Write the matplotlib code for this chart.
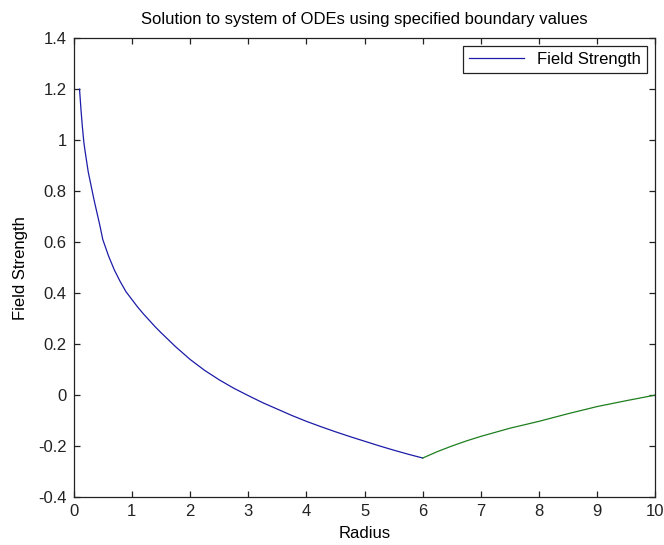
import numpy as np
import matplotlib
matplotlib.use('Agg')
import matplotlib.pyplot as plt

plt.rcParams['font.family'] = ['Liberation Sans', 'DejaVu Sans']

# blue segment: inner region, r in [0.1, 6]
r_in = [0.1, 0.125, 0.15, 0.175, 0.2, 0.25, 0.3, 0.35, 0.4, 0.45, 0.5, 0.6,
        0.7, 0.8, 0.9, 1.0, 1.1, 1.2, 1.3, 1.4, 1.5, 1.75, 2.0, 2.25, 2.5,
        2.75, 3.0, 3.25, 3.5, 3.75, 4.0, 4.25, 4.5, 4.75, 5.0, 5.25, 5.5,
        5.75, 6.0]
f_in = [1.20, 1.12, 1.05, 0.99, 0.95, 0.875, 0.82, 0.765, 0.715, 0.665, 0.61,
        0.545, 0.49, 0.445, 0.405, 0.375, 0.345, 0.318, 0.293, 0.268, 0.245,
        0.19, 0.14, 0.097, 0.06, 0.027, -0.002, -0.03, -0.055, -0.08, -0.103,
        -0.124, -0.144, -0.163, -0.181, -0.199, -0.216, -0.232, -0.247]

# green segment: outer region, r in [6, 10]
r_out = [6.0, 6.25, 6.5, 6.75, 7.0, 7.5, 8.0, 8.5, 9.0, 9.5, 10.0]
f_out = [-0.247, -0.222, -0.20, -0.18, -0.162, -0.13, -0.103, -0.073, -0.045,
         -0.022, 0.0]

fig = plt.figure(figsize=(6.64, 5.45), dpi=100, facecolor='white')
ax = fig.add_axes([0.111, 0.088, 0.876, 0.842])

ax.plot(r_in, f_in, color='#1c1ca8', lw=0.9, label='Field Strength')
ax.plot(r_out, f_out, color='#1e7f1e', lw=0.9)

ax.set_xlim(0, 10)
ax.set_ylim(-0.4, 1.4)
ax.set_xticks(np.arange(0, 11, 1))
ax.set_yticks(np.arange(-0.4, 1.41, 0.2))
ax.set_yticklabels(['-0.4', '-0.2', '0', '0.2', '0.4', '0.6', '0.8', '1', '1.2', '1.4'])

ax.tick_params(direction='in', length=4.2, width=0.9, top=True, right=True,
               labelsize=12, colors='#222222', pad=5)
for s in ax.spines.values():
    s.set_color('#222222')
    s.set_linewidth(0.9)

ax.set_xlabel('Radius', fontsize=12, labelpad=5)
ax.set_ylabel('Field Strength', fontsize=12, labelpad=7)
ax.set_title('Solution to system of ODEs using specified boundary values',
             fontsize=12, pad=10)

leg = ax.legend(loc='upper right', fontsize=12, fancybox=False, framealpha=1,
                edgecolor='#222222', handlelength=3.3, borderpad=0.35,
                borderaxespad=0.5)
leg.get_frame().set_linewidth(0.9)

fig.savefig('out.png', dpi=100, facecolor='white')
